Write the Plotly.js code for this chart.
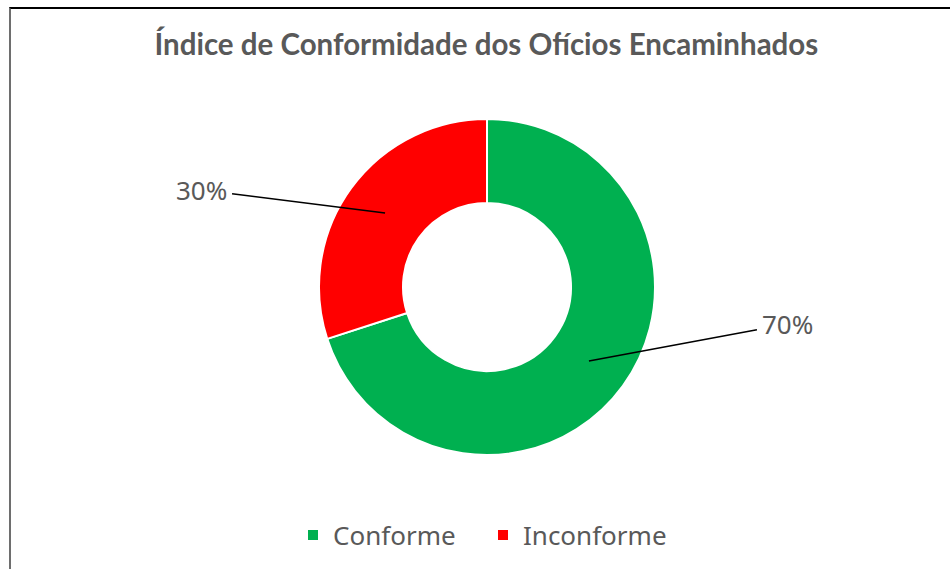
<!DOCTYPE html>
<html>
<head>
<meta charset="utf-8">
<script src="https://cdn.plot.ly/plotly-3.0.1.min.js"></script>
<style>
html,body{margin:0;padding:0;background:#fff;}
#wrap{position:relative;width:950px;height:569px;overflow:hidden;}
#chart{position:absolute;left:0;top:0;width:950px;height:569px;}
#frame{position:absolute;left:9px;top:7px;width:960px;height:600px;border-left:2px solid #6e6e6e;border-top:2px solid #000;pointer-events:none;}
</style>
</head>
<body>
<div id="wrap"><div id="chart"></div><div id="frame"></div></div>
<script>
const categories = ["Conforme", "Inconforme"];
const values = [70, 30];
const colors = ["#00B050", "#FF0000"];
const chartTitle = "Índice de Conformidade dos Ofícios Encaminhados";

const W = 950, H = 569;
const cx = 487, cy = 287, R = 168, holeFrac = 0.5;

const trace = {
  type: "pie",
  labels: categories,
  values: values,
  hole: holeFrac,
  sort: false,
  direction: "clockwise",
  rotation: 0,
  textinfo: "none",
  hoverinfo: "label+percent",
  marker: {colors: colors, line: {color: "#ffffff", width: 2}},
  domain: {x: [(cx - R) / W, (cx + R) / W], y: [(H - cy - R) / H, (H - cy + R) / H]},
  showlegend: true
};

// label annotations: tip at middle of each ring slice, computed from data
const total = values.reduce((a, b) => a + b, 0);
const rMid = R * (1 + holeFrac) / 2;
const offsets = [[199, -37], [-184, -23]];
let cum = 0;
const annotations = values.map((v, i) => {
  const mid = (cum + v / 2) / total * 2 * Math.PI;
  cum += v;
  const px = cx + rMid * Math.sin(mid);
  const py = cy - rMid * Math.cos(mid);
  return {
    x: px / W, y: 1 - py / H, xref: "paper", yref: "paper",
    text: Math.round(v / total * 100) + "%",
    showarrow: true, arrowhead: 0, arrowwidth: 1.6, arrowcolor: "#000",
    ax: offsets[i][0], ay: offsets[i][1], standoff: 0, startstandoff: 0,
    borderpad: 5,
    font: {family: "Noto Sans, sans-serif", size: 26, color: "#595959"}
  };
});

const layout = {
  width: W, height: H,
  margin: {l: 0, r: 0, t: 0, b: 0},
  paper_bgcolor: "#fff",
  title: {
    text: "<b>" + chartTitle + "</b>",
    x: 0.512, xanchor: "center", y: 1 - 45 / H, yanchor: "middle",
    font: {family: "Lato, sans-serif", size: 29.5, color: "#595959"}
  },
  legend: {
    orientation: "h", x: 293 / W, xanchor: "left", y: 1 - 535 / H, yanchor: "middle",
    font: {family: "Noto Sans, sans-serif", size: 26, color: "#595959"},
    itemwidth: 30, entrywidth: 145
  },
  annotations: annotations
};

Plotly.newPlot("chart", [trace], layout, {displayModeBar: false, staticPlot: true});
</script>
</body>
</html>
